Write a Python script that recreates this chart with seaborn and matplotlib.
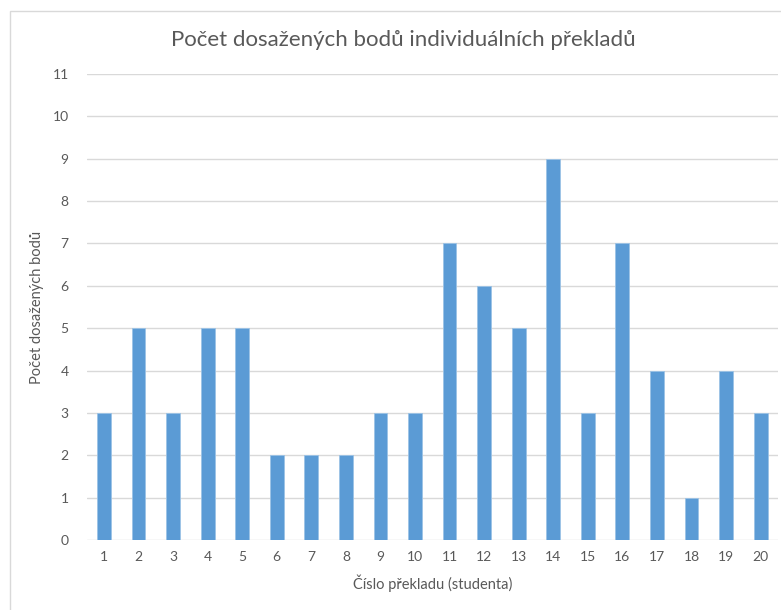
import numpy as np
import pandas as pd
import matplotlib
matplotlib.use("Agg")
import matplotlib.pyplot as plt
import seaborn as sns
from matplotlib.patches import Rectangle

# ---------------- Data ----------------
students = [str(i) for i in range(1, 21)]
points = [3, 5, 3, 5, 5, 2, 2, 2, 3, 3, 7, 6, 5, 9, 3, 7, 4, 1, 4, 3]

df = pd.DataFrame({"student": students, "points": points})

# ---------------- Style ----------------
sns.set_style("white")
plt.rcParams["font.family"] = ["Lato", "DejaVu Sans"]

text_color = "#595959"
bar_color = "#5B9BD5"
grid_color = "#D9D9D9"

fig = plt.figure(figsize=(7.81, 6.10), dpi=100)
ax = fig.add_axes([0.111, 0.1148, 0.885, 0.7639])

sns.barplot(data=df, x="student", y="points", color=bar_color,
            width=0.4, saturation=1, edgecolor="#9CC3E6", linewidth=0.6,
            ax=ax, zorder=3)

ax.set_ylim(0, 11)
ax.set_yticks(range(0, 12))
ax.yaxis.grid(True, color=grid_color, linewidth=1, zorder=0)
ax.set_axisbelow(True)
for s in ax.spines.values():
    s.set_visible(False)
ax.tick_params(axis="both", length=0, colors=text_color, labelsize=10)
ax.tick_params(axis="x", pad=8)
ax.tick_params(axis="y", pad=13)

ax.set_xlabel("Číslo překladu (studenta)", fontsize=10.5, color=text_color, labelpad=8)
ax.set_ylabel("Počet dosažených bodů", fontsize=10.5, color=text_color, labelpad=6)
fig.text(0.516, 0.935, "Počet dosažených bodů individuálních překladů",
         ha="center", va="center", fontsize=16, color=text_color)

# outer chart frame
fig.patches.append(Rectangle((10 / 781, -0.1), 1.2, 1 - 11 / 610 + 0.1,
                             transform=fig.transFigure, fill=False,
                             edgecolor="#D9D9D9", linewidth=1))

fig.savefig("out.png", dpi=100)
